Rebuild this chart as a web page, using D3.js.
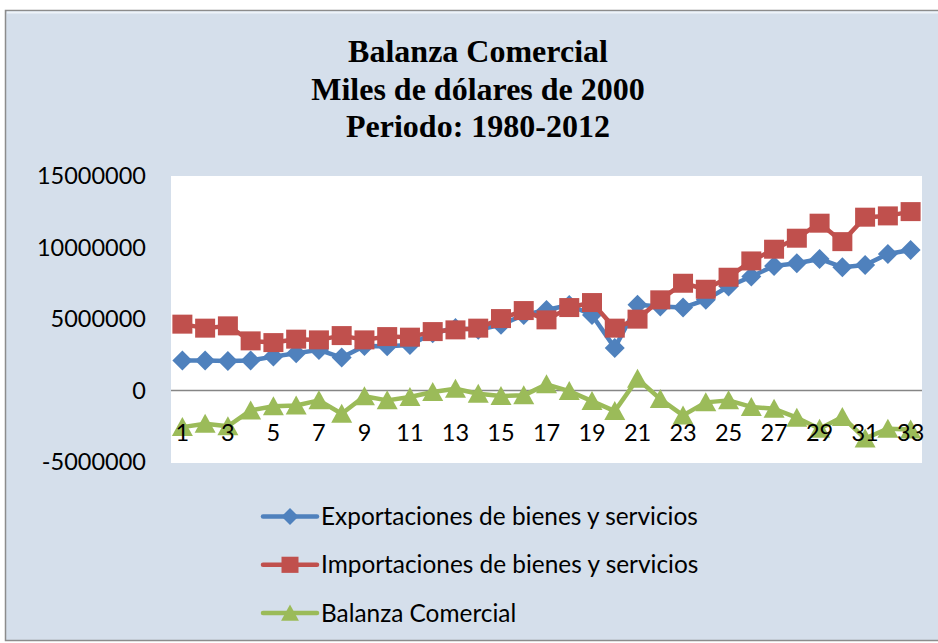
<!doctype html>
<html>
<head>
<meta charset="utf-8">
<style>
  body { margin: 0; background: #ffffff; }
  svg { display: block; }
  .title { font-family: "Liberation Serif", "Times New Roman", serif; font-weight: bold; font-size: 32px; fill: #000; }
  .axis text { font-family: Lato, "Open Sans", sans-serif; font-size: 23.5px; fill: #000; }
  .legend text { font-family: Lato, "Open Sans", sans-serif; font-size: 24.4px; fill: #000; }
</style>
<script src="https://d3js.org/d3.v7.min.js"></script>
</head>
<body>
<svg width="938" height="643"></svg>
<script>
  // years 1980-2012 numbered 1..33
  var periods = d3.range(1, 34);
  var tickLabels = periods.filter(function (d) { return d % 2 === 1; });
  var yTicks = [-5000000, 0, 5000000, 10000000, 15000000];

  var exportaciones = [2090000, 2090000, 2070000, 2100000, 2370000, 2600000, 2840000, 2300000, 3120000, 3100000, 3190000,
    4000000, 4370000, 4240000, 4590000, 5280000, 5630000, 5980000, 5280000, 2980000, 5990000, 5870000,
    5800000, 6340000, 7270000, 7970000, 8710000, 8900000, 9200000, 8620000, 8780000, 9550000, 9830000];
  var importaciones = [4640000, 4360000, 4520000, 3470000, 3350000, 3590000, 3540000, 3840000, 3540000, 3770000, 3730000,
    4120000, 4240000, 4360000, 5030000, 5590000, 4940000, 5800000, 6150000, 4360000, 4990000, 6340000,
    7500000, 7080000, 7920000, 9060000, 9880000, 10650000, 11700000, 10410000, 12120000, 12210000, 12510000];
  var balanza = [-2560000, -2320000, -2500000, -1390000, -1100000, -1050000, -690000, -1630000, -400000, -690000, -450000,
    -100000, 120000, -230000, -390000, -340000, 430000, -40000, -740000, -1440000, 820000, -600000,
    -1740000, -830000, -690000, -1150000, -1280000, -1900000, -2670000, -1850000, -3360000, -2670000, -2730000];

  var series = [
    { name: "Exportaciones de bienes y servicios", values: exportaciones, color: "#4F81BD", marker: "diamond" },
    { name: "Importaciones de bienes y servicios", values: importaciones, color: "#C0504D", marker: "square" },
    { name: "Balanza Comercial", values: balanza, color: "#9BBB59", marker: "triangle" }
  ];

  var svg = d3.select("svg");

  // chart frame
  svg.append("rect")
    .attr("x", 5.5).attr("y", 10.5)
    .attr("width", 940).attr("height", 630)
    .attr("fill", "#D5DFEB")
    .attr("stroke", "#8c8c8c")
    .attr("stroke-width", 1.5);
  svg.append("line")
    .attr("x1", 7).attr("x2", 938).attr("y1", 12.5).attr("y2", 12.5)
    .attr("stroke", "#eef3f9").attr("stroke-width", 2);

  // title
  var titleLines = ["Balanza Comercial", "Miles de dólares de 2000", "Periodo: 1980-2012"];
  svg.append("g").selectAll("text")
    .data(titleLines)
    .enter().append("text")
    .attr("class", "title")
    .attr("x", 478)
    .attr("y", function (d, i) { return 62 + i * 37.5; })
    .attr("text-anchor", "middle")
    .text(function (d) { return d; });

  var plot = { left: 171, right: 922, top: 176, bottom: 463 };

  svg.append("rect")
    .attr("x", plot.left).attr("y", plot.top)
    .attr("width", plot.right - plot.left).attr("height", plot.bottom - plot.top)
    .attr("fill", "#ffffff");

  var x = d3.scaleBand()
    .domain(periods)
    .range([plot.left, plot.right])
    .padding(0);

  var y = d3.scaleLinear()
    .domain([-5000000, 15000000])
    .range([plot.bottom - 1, plot.top]);

  function cx(d) { return x(d) + x.bandwidth() / 2; }

  // y axis (labels only)
  var yAxis = svg.append("g")
    .attr("class", "axis")
    .attr("transform", "translate(" + plot.left + ",0)")
    .call(d3.axisLeft(y).tickValues(yTicks).tickSize(0).tickPadding(25)
      .tickFormat(function (d) { return String(d); }));
  yAxis.select(".domain").remove();

  // zero line
  svg.append("line")
    .attr("x1", plot.left).attr("x2", plot.right)
    .attr("y1", y(0)).attr("y2", y(0))
    .attr("stroke", "#868686").attr("stroke-width", 1.5);

  var markerPaths = {
    diamond: "M0,-10L10,0L0,10L-10,0Z",
    square: "M-10,-9.5H10V9.5H-10Z",
    triangle: "M0,-10L10.5,9L-10.5,9Z"
  };

  var line = d3.line()
    .x(function (d, i) { return cx(periods[i]); })
    .y(function (d) { return y(d); });

  series.forEach(function (s) {
    var g = svg.append("g");
    g.append("path")
      .datum(s.values)
      .attr("fill", "none")
      .attr("stroke", s.color)
      .attr("stroke-width", 4.5)
      .attr("stroke-linejoin", "round")
      .attr("d", line);
    g.selectAll(".m")
      .data(s.values)
      .enter().append("path")
      .attr("class", "m")
      .attr("d", markerPaths[s.marker])
      .attr("fill", s.color)
      .attr("transform", function (d, i) { return "translate(" + cx(periods[i]) + "," + y(d) + ")"; });
  });

  // x axis labels, drawn over the series like the original
  var xAxis = svg.append("g")
    .attr("class", "axis")
    .attr("transform", "translate(0," + y(0) + ")")
    .call(d3.axisBottom(x).tickValues(tickLabels).tickSize(0).tickPadding(34));
  xAxis.select(".domain").remove();

  // legend
  var legend = svg.append("g").attr("class", "legend");
  var item = legend.selectAll("g")
    .data(series)
    .enter().append("g")
    .attr("transform", function (d, i) { return "translate(263," + (516.5 + i * 48.3) + ")"; });
  item.append("line")
    .attr("x1", 0).attr("x2", 54)
    .attr("stroke", function (d) { return d.color; })
    .attr("stroke-width", 4.5)
    .attr("stroke-linecap", "round");
  item.append("path")
    .attr("d", function (d) { return markerPaths[d.marker]; })
    .attr("fill", function (d) { return d.color; })
    .attr("transform", "translate(27,0) scale(0.85)");
  item.append("text")
    .attr("x", 58)
    .attr("dy", "0.35em")
    .text(function (d) { return d.name; });
</script>
</body>
</html>
